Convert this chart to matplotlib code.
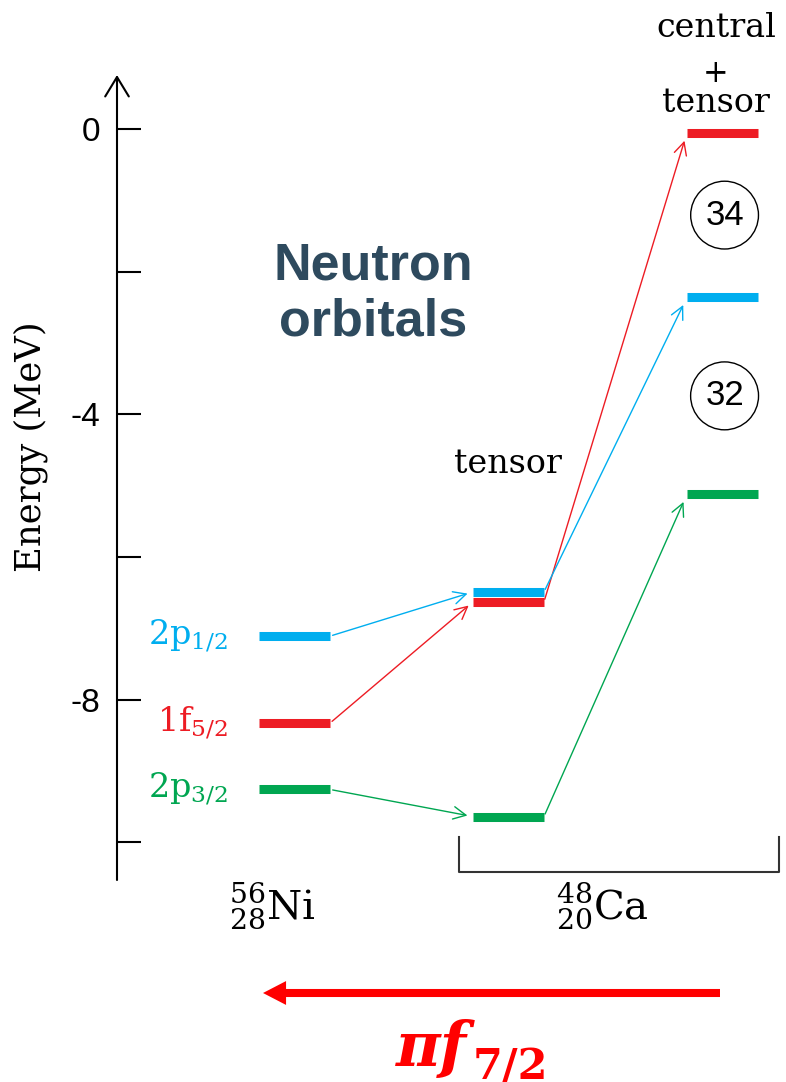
import matplotlib
matplotlib.use("Agg")
import matplotlib.pyplot as plt

plt.rcParams["mathtext.fontset"] = "dejavuserif"
plt.rcParams["font.family"] = "DejaVu Serif"

# Neutron single-particle levels (MeV), order: 2p1/2, 1f5/2, 2p3/2
orbitals = [r"2p$_{1/2}$", r"1f$_{5/2}$", r"2p$_{3/2}$"]
orbital_colors = ["#00AEEF", "#ED1C24", "#00A651"]
energy_ni56 = [-7.11, -8.33, -9.26]
energy_ca48_tensor = [-6.49, -6.63, -9.64]
energy_ca48_full = [-2.36, -0.05, -5.12]
shell_gaps = ["34", "32"]

tick_values = [0, -2, -4, -6, -8, -10]
tick_labels = ["0", "", "-4", "", "-8", ""]
nuclei = [r"${}^{56}_{28}$Ni", r"${}^{48}_{20}$Ca"]

col_x = [0.0, 1.0, 2.0]
half_w = 0.166

fig = plt.figure(figsize=(7.86, 10.82), dpi=100)
ax = fig.add_axes([117 / 786, 202 / 1082, 669 / 786, 805 / 1082])
ax.set_xlim(-0.829, 2.297)
ax.set_ylim(-10.53, 0.76)
for s in ["top", "right", "bottom", "left"]:
    ax.spines[s].set_visible(False)
ax.set_xticks([])
ax.set_yticks(tick_values)
ax.set_yticklabels(tick_labels, fontfamily="Liberation Sans", fontsize=24)
ax.tick_params(axis="y", direction="in", length=17, width=1.5, pad=12, color="black")

# vertical energy axis with open arrow head
ax.annotate("", xy=(0, 1), xytext=(0, 0), xycoords="axes fraction",
            arrowprops=dict(arrowstyle="->,head_length=1.4,head_width=0.85",
                            mutation_scale=10, lw=1.5, color="black",
                            shrinkA=0, shrinkB=0))
fig.text(31 / 786, 1 - 447 / 1082, "Energy (MeV)", rotation=90, ha="center",
         va="center", fontsize=25.5, fontfamily="DejaVu Serif")

columns = [energy_ni56, energy_ca48_tensor, energy_ca48_full]

# level bars
for xc, energies in zip(col_x, columns):
    for e, c in zip(energies, orbital_colors):
        ax.hlines(e, xc - half_w, xc + half_w, colors=c, lw=6.5, capstyle="butt", zorder=3)

# connecting arrows between columns
for k in range(len(columns) - 1):
    for i in [1, 2, 0]:
        c = orbital_colors[i]
        ax.annotate("", xy=(col_x[k + 1] - half_w, columns[k + 1][i]),
                    xytext=(col_x[k] + half_w, columns[k][i]),
                    arrowprops=dict(arrowstyle="->,head_length=0.9,head_width=0.45",
                                    mutation_scale=10, lw=1.0, color=c,
                                    shrinkA=2, shrinkB=4 if k == 0 else 6))

# orbital names next to the 56Ni levels
for lab, e, c in zip(orbitals, energy_ni56, orbital_colors):
    ax.text(col_x[0] - 0.31, e, lab, color=c, fontsize=24, ha="right", va="center")

# shell-gap markers between consecutive levels of the last column
full_sorted = sorted(energy_ca48_full, reverse=True)
for j, g in enumerate(shell_gaps):
    ymid = 0.5 * (full_sorted[j] + full_sorted[j + 1])
    ax.text(col_x[2] + 0.01, ymid, g, fontsize=25, fontfamily="Liberation Sans",
            ha="center", va="center",
            bbox=dict(boxstyle="circle,pad=0.42", fc="none", ec="black", lw=1.0))

# column headings
ax.text(col_x[1], -4.82, "tensor", fontsize=24, ha="center", va="baseline")
ax.text(col_x[2] - 0.03, 1.29, "central", fontsize=24, ha="center", va="baseline", clip_on=False)
ax.text(col_x[2] - 0.03, 0.78, "+", fontsize=22, ha="center", va="center", clip_on=False)
ax.text(col_x[2] - 0.03, 0.24, "tensor", fontsize=24, ha="center", va="baseline", clip_on=False)

ax.text(0.367, -2.31, "Neutron\norbitals", fontsize=37.5, fontfamily="Liberation Sans",
        fontweight="bold", color="#2E4A5E", ha="center", va="center",
        multialignment="center", linespacing=1.2)

# bracket grouping the two 48Ca columns
ax.plot([0.769, 0.769, 2.264, 2.264], [-9.92, -10.42, -10.42, -9.92],
        color="#333333", lw=1.5, clip_on=False)

# nucleus labels
ax.text(-0.105, -11.09, nuclei[0], fontsize=29, ha="center", va="baseline", clip_on=False)
ax.text(1.44, -11.09, nuclei[1], fontsize=29, ha="center", va="baseline", clip_on=False)

# proton f7/2 filling arrow
ax.annotate("", xy=(263 / 786, 1 - 993 / 1082), xytext=(720 / 786, 1 - 993 / 1082),
            xycoords="figure fraction", textcoords="figure fraction",
            arrowprops=dict(arrowstyle="simple,head_length=0.83,head_width=0.86,tail_width=0.29",
                            mutation_scale=20, color="#FF0000", lw=0,
                            shrinkA=0, shrinkB=0))
t1 = fig.text(396 / 786, 1 - 1066 / 1082, "\u03c0f", fontsize=44, fontfamily="DejaVu Serif",
              fontstyle="italic", fontweight="bold", color="#FF0000",
              ha="left", va="baseline")
ax.annotate("7/2", xy=(1.0, 0.0), xycoords=t1, xytext=(4, 0), textcoords="offset points",
            fontsize=31, fontfamily="DejaVu Serif", fontweight="bold", color="#FF0000",
            ha="left", va="baseline", annotation_clip=False)

fig.savefig("out.png", dpi=100)
